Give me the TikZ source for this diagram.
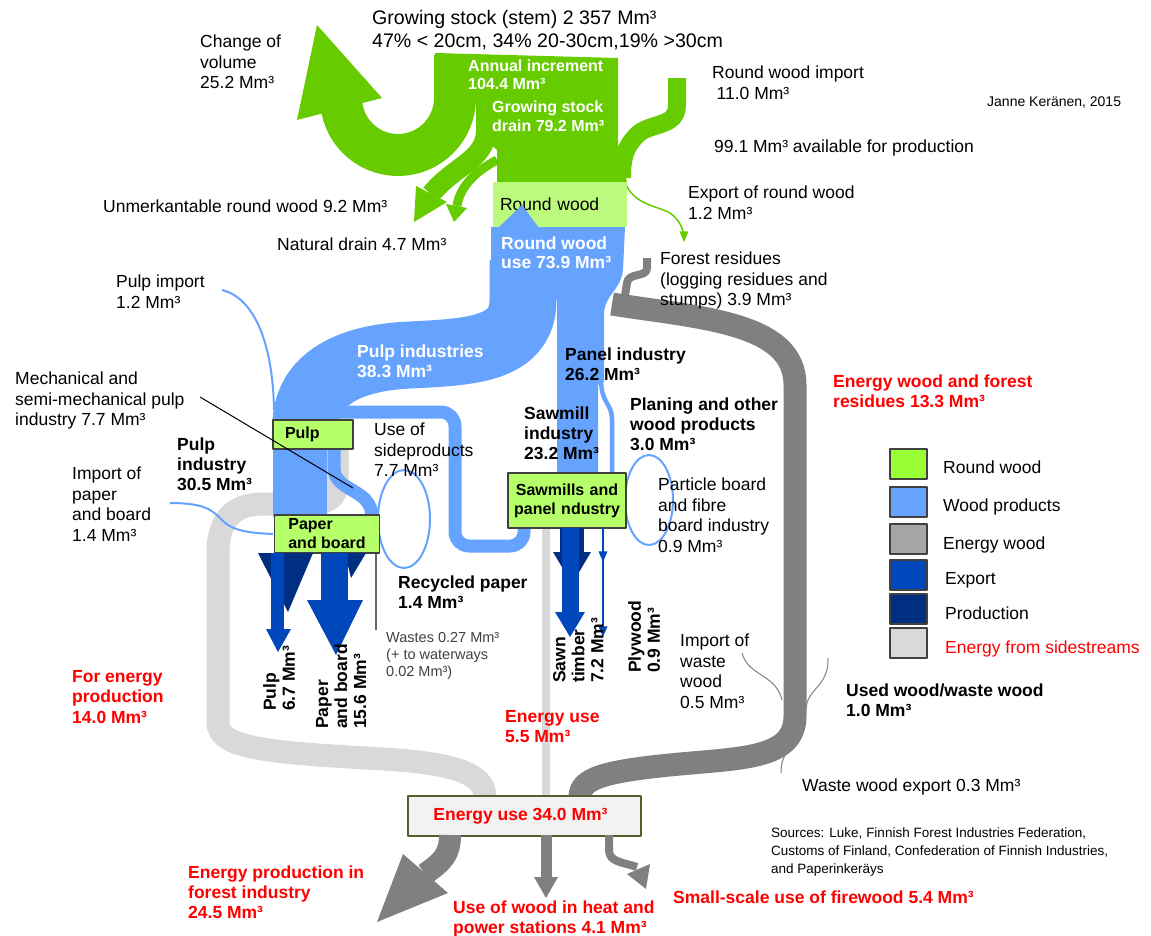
\documentclass[tikz,border=0pt]{standalone}
\usepackage{fontspec}
\setmainfont{Liberation Sans}
\usetikzlibrary{arrows}

\definecolor{rwgreen}{RGB}{102,204,0}
\definecolor{rwlight}{RGB}{188,250,125}
\definecolor{boxgreen}{RGB}{181,255,105}
\definecolor{legreen}{RGB}{153,255,51}
\definecolor{wpblue}{RGB}{102,163,255}
\definecolor{expblue}{RGB}{0,71,187}
\definecolor{prodblue}{RGB}{0,46,128}
\definecolor{ewgray}{RGB}{128,128,128}
\definecolor{leggray}{RGB}{166,166,166}
\definecolor{sidegray}{RGB}{217,217,217}
\definecolor{ered}{RGB}{255,0,0}
\definecolor{eboxfill}{RGB}{242,242,242}
\definecolor{eboxline}{RGB}{79,98,40}

\begin{document}
\begin{tikzpicture}[x=1pt,y=-1pt,line join=round,>=triangle 45,
  lbl/.style={font=\fontsize{17.5}{20.7}\selectfont,align=left,anchor=north west,inner sep=0pt},
  blbl/.style={lbl,font=\fontsize{17.5}{20.2}\selectfont\bfseries},
  rlbl/.style={blbl,text=ered},
  wlbl/.style={blbl,text=white},
  rotlbl/.style={blbl,rotate=90,font=\fontsize{17.5}{19}\selectfont\bfseries},
  smalllbl/.style={lbl,font=\fontsize{14.5}{17}\selectfont,text=black!75},
  greenbox/.style={draw=black!75,line width=1.3pt,fill=boxgreen,inner sep=0pt,font=\fontsize{16}{19}\selectfont\bfseries},
  legbox/.style={draw=black!75,line width=1.5pt,minimum width=37pt,minimum height=30pt,inner sep=0pt},
  leglbl/.style={font=\fontsize{17.5}{20}\selectfont,anchor=base west,inner sep=0pt}]
\useasboundingbox (0,0) rectangle (1151,935);

% energy from sidestreams
\draw[sidegray,line width=23pt] (337,449) -- (337,482) .. controls (337,500) and (325,504) .. (305,504)
  -- (262,504) .. controls (232,504) and (218,522) .. (218,552) -- (218,722)
  .. controls (218,746) and (255,752) .. (367,758) .. controls (450,762) and (485,772) .. (485,797);
\draw[sidegray,line width=8pt] (546,528) -- (546,797);

% energy wood and forest residues
\draw[ewgray,line width=23pt] (612,304) .. controls (700,318) and (795,322) .. (795,385) -- (795,716)
  .. controls (795,758) and (745,758) .. (680,764) .. controls (605,771) and (580,778) .. (580,797);
\draw[ewgray,line width=8pt] (647,258) -- (647,268) .. controls (647,278) and (628,272) .. (627,283) -- (624,302);

% growing stock
\fill[rwgreen] (317,25) -- (382,98) -- (297,120) -- cycle;
\draw[rwgreen,line width=42pt,rounded corners=57pt] (455,55) -- (455,155) -- (341,155) -- (341,98);
\fill[rwgreen] (435,53) -- (618,58) -- (618,150) -- (627,182) -- (497,182) -- (497,150) -- (476,132) -- (476,98) -- (435,98) -- cycle;
\draw[rwgreen,line width=18pt] (677,78) -- (677,105) .. controls (677,128) and (650,122) .. (637,135) .. controls (624,148) and (622,160) .. (622,178);
\draw[rwgreen,line width=20pt] (486,130) .. controls (486,160) and (455,165) .. (431,194);
\fill[rwgreen] (416,186) -- (447,202) -- (414,222) -- cycle;
\draw[rwgreen,line width=9pt] (497,160) .. controls (478,170) and (460,185) .. (457,206);
\fill[rwgreen] (446,204) -- (467,208) -- (454,222) -- cycle;
\draw[rwgreen,line width=1.5pt,->] (625,183) .. controls (635,205) and (655,205) .. (670,213) .. controls (680,220) and (684,230) .. (684,242);

\node[fill=rwlight,inner sep=0pt,minimum width=134pt,minimum height=45pt,text width=120pt,align=left,font=\fontsize{17.5}{20}\selectfont] (rwbox) at (560,204.5) {Round wood};

% wood products
\fill[wpblue] (491,227) -- (625,227) -- (623,270) .. controls (621,290) and (604,295) .. (604,315) -- (604,382) -- (598,385) -- (598,474) -- (557,474) -- (557,300) -- (491,300) -- cycle;
\fill[wpblue] (498,228) -- (522,205) -- (539,228) -- cycle;
\draw[wpblue,line width=67pt] (523,260) -- (523,300) .. controls (523,350) and (470,352) .. (410,355) .. controls (340,358) and (306,385) .. (306,425);
\fill[wpblue] (273,420) rectangle (327,517);
\draw[wpblue,line width=13pt] (334,447) -- (334,468) .. controls (334,492) and (372,488) .. (372,517);
\draw[wpblue,line width=13pt,rounded corners=14pt] (335,412) -- (455,412) -- (455,546) -- (524,546) -- (524,526);
\draw[wpblue,line width=4.5pt] (601,378) .. controls (601,405) and (612,402) .. (612,420) -- (612,474);
\draw[wpblue,line width=2pt] (222,290) .. controls (255,298) and (273,345) .. (274,410);
\draw[wpblue,line width=2pt] (170,503) .. controls (205,503) and (212,510) .. (222,520) .. controls (232,531) and (250,533) .. (273,534);
\draw[wpblue,line width=2pt] (404,519) ellipse (26pt and 49pt);
\draw[wpblue,line width=2pt] (649,500) ellipse (24pt and 45pt);
\draw[black!60,line width=1.2pt] (376,553) -- (376,630);

\node[greenbox,minimum width=80pt,minimum height=29pt,text width=56pt,align=left] (pulpbox) at (313,434.5) {Pulp};
\node[greenbox,minimum width=105pt,minimum height=38pt,align=left] (paperbox) at (327,534) {Paper\\and board};
\node[greenbox,minimum width=118pt,minimum height=55pt,text width=110pt,align=center] (sawbox) at (567,500.5) {Sawmills and\\panel ndustry};

% exports and production
\fill[prodblue] (258,553) -- (313,553) -- (288,612) -- cycle;
\fill[prodblue] (345,553) -- (366,553) -- (351,578) -- cycle;
\fill[expblue] (271,553) rectangle (284,630);
\fill[expblue] (266,629) -- (291,629) -- (278,652) -- cycle;
\fill[expblue] (321,553) rectangle (348,601);
\fill[expblue] (307,600) -- (363,600) -- (336,655) -- cycle;
\fill[prodblue] (560,528) rectangle (584,553);
\fill[prodblue] (553,552) -- (591,552) -- (572,584) -- cycle;
\fill[expblue] (562,528) rectangle (579,614);
\fill[expblue] (555,612) -- (585,612) -- (570,637) -- cycle;
\draw[expblue,line width=1.5pt,->] (603,528) -- (603,562);
\draw[expblue,line width=1.5pt,->] (603,560) -- (603,637);

% energy use
\node[draw=eboxline,line width=1.3pt,fill=eboxfill,minimum width=233pt,minimum height=40pt,inner sep=0pt,text=ered,font=\fontsize{17.5}{20}\selectfont\bfseries] (ebox) at (524.5,816) {Energy use 34.0 Mm³\hspace*{8pt}};
\draw[ewgray,line width=22pt] (450,835) .. controls (450,855) and (442,862) .. (425,874);
\fill[ewgray] (403,854) -- (448,893) -- (377,922) -- cycle;
\draw[ewgray,line width=11pt] (546,835) -- (546,878);
\fill[ewgray] (534,877) -- (558,877) -- (546,898) -- cycle;
\draw[ewgray,line width=8pt] (609,835) -- (609,850) .. controls (609,862) and (622,862) .. (637,867);
\fill[ewgray] (627,874) -- (650,864) -- (646,889) -- cycle;

% waste wood
\draw[ewgray,line width=1pt] (742,653) .. controls (748,676) and (776,674) .. (782,700);
\draw[ewgray,line width=1pt] (828,658) .. controls (829,686) and (808,688) .. (806,708);
\draw[ewgray,line width=1pt] (796,740) .. controls (790,750) and (781,754) .. (781,773);

% labels
\node[lbl,font=\fontsize{19.6}{23}\selectfont] (growstock) at (372,10) {Growing stock (stem) 2 357 Mm³\\47\% < 20cm, 34\% 20-30cm,19\% >30cm};
\node[lbl] (chvol) at (200,34.5) {Change of\\volume\\25.2 Mm³};
\node[wlbl,font=\fontsize{16}{18}\selectfont\bfseries] (annual) at (468,60) {Annual increment\\104.4 Mm³};
\node[wlbl,font=\fontsize{16}{19}\selectfont\bfseries] (gsdrain) at (492,101) {Growing stock\\drain 79.2 Mm³};
\node[lbl] (rwimport) at (712,65.5) {Round wood import\\\hspace*{4.5pt}11.0 Mm³};
\node[lbl,font=\fontsize{14}{17}\selectfont,anchor=base west] (author) at (987,106) {Janne Keränen, 2015};
\node[lbl] (avail) at (714,139.5) {99.1 Mm³ available for production};
\node[lbl] (rwexport) at (688,185.5) {Export of round wood\\1.2 Mm³};
\node[lbl] (unmerk) at (103,199.5) {Unmerkantable round wood 9.2 Mm³};
\node[lbl] (natdrain) at (277,237.5) {Natural drain 4.7 Mm³};
\node[wlbl,font=\fontsize{17.5}{19}\selectfont\bfseries] (rwuse) at (501,236.5) {Round wood\\use 73.9 Mm³};
\node[lbl] (residues) at (660,251.5) {Forest residues\\(logging residues and\\stumps) 3.9 Mm³};
\node[lbl] (pulpimp) at (116,274.5) {Pulp import\\1.2 Mm³};
\node[wlbl] (pulpinds) at (357,344.5) {Pulp industries\\38.3 Mm³};
\node[blbl] (panelind) at (565,347.5) {Panel industry\\26.2 Mm³};
\node[lbl] (mech) at (15,371.5) {Mechanical and\\semi-mechanical pulp\\industry 7.7 Mm³};
\node[rlbl] (ewood) at (833,374.5) {Energy wood and forest\\residues 13.3 Mm³};
\node[blbl] (planing) at (630,397.5) {Planing and other\\wood products\\3.0 Mm³};
\node[blbl] (sawind) at (524,406.5) {Sawmill\\industry\\23.2 Mm³};
\node[lbl] (sideprod) at (374,422.5) {Use of\\sideproducts\\7.7 Mm³};
\node[blbl] (pulpind) at (177,437.5) {Pulp\\industry\\30.5 Mm³};
\node[lbl] (paperimp) at (72,466.5) {Import of\\paper\\and board\\1.4 Mm³};
\node[lbl] (particle) at (658,477.5) {Particle board\\and fibre\\board industry\\0.9 Mm³};
\node[blbl] (recycled) at (398,575.5) {Recycled paper\\1.4 Mm³};
\node[smalllbl] (wastes) at (386,632.6) {Wastes 0.27 Mm³\\(+ to waterways\\0.02 Mm³)};
\node[lbl] (wasteimp) at (680,633.5) {Import of\\waste\\wood\\0.5 Mm³};
\node[rlbl] (forenergy) at (72,670.5) {For energy\\production\\14.0 Mm³};
\node[blbl] (usedwood) at (846,683.5) {Used wood/waste wood\\1.0 Mm³};
\node[rlbl] (euse55) at (505,710.5) {Energy use\\5.5 Mm³};
\node[lbl] (wwexport) at (802,778.5) {Waste wood export 0.3 Mm³};
\node[lbl,font=\fontsize{13.5}{18}\selectfont] (sources) at (771,828) {Sources: Luke, Finnish Forest Industries Federation,\\Customs of Finland, Confederation of Finnish Industries,\\and Paperinkeräys};
\node[rlbl] (eprod) at (188,865.5) {Energy production in\\forest industry\\24.5 Mm³};
\node[rlbl] (firewood) at (673,890.5) {Small-scale use of firewood 5.4 Mm³};
\node[rlbl] (heat) at (453,900.5) {Use of wood in heat and\\power stations 4.1 Mm³};

\node[rotlbl] (pulpexp) at (263,711) {Pulp\\6.7 Mm³};
\node[rotlbl] (paperexp) at (316,729) {Paper\\and board\\15.6 Mm³};
\node[rotlbl] (sawnexp) at (553,683) {Sawn\\timber\\7.2 Mm³};
\node[rotlbl] (plyexp) at (628,673) {Plywood\\0.9 Mm³};

\coordinate (mechlead) at (200,397);
\coordinate (mechtip) at (353,488);
\draw[black,line width=1pt] (mechlead) -- (mechtip);

% legend
\node[legbox,fill=legreen] (lgrw) at (908.5,464) {};
\node[leglbl] (lgrwt) at (943,473) {Round wood};
\node[legbox,fill=wpblue] (lgwp) at (908.5,502) {};
\node[leglbl] (lgwpt) at (943,511) {Wood products};
\node[legbox,fill=leggray] (lgew) at (908.5,539) {};
\node[leglbl] (lgewt) at (943,549) {Energy wood};
\node[legbox,fill=expblue] (lgex) at (908.5,575) {};
\node[leglbl] (lgext) at (945,584) {Export};
\node[legbox,fill=prodblue] (lgpr) at (908.5,609) {};
\node[leglbl] (lgprt) at (945,619) {Production};
\node[legbox,fill=sidegray] (lgsd) at (908.5,643) {};
\node[leglbl,text=ered] (lgsdt) at (945,653) {Energy from sidestreams};

\end{tikzpicture}
\end{document}
